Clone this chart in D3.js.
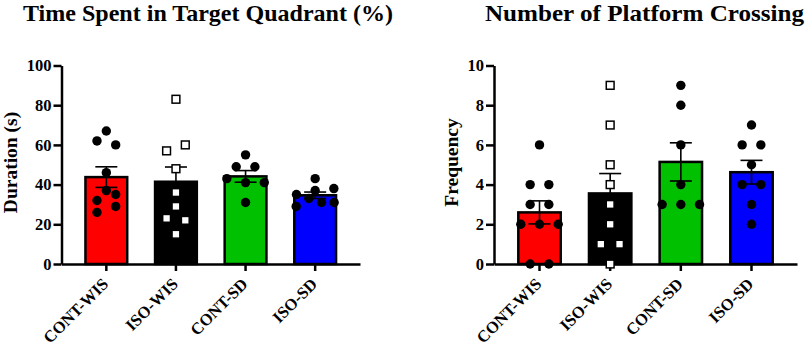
<!DOCTYPE html>
<html>
<head>
<meta charset="utf-8">
<script src="https://cdn.jsdelivr.net/npm/d3@7"></script>
<style>
body { margin: 0; background: #fff; }
text { font-family: "Liberation Serif", "Times New Roman", serif; font-weight: bold; fill: #000; }
</style>
</head>
<body>
<script>
// groups and colours
var groups = ["CONT-WIS", "ISO-WIS", "CONT-SD", "ISO-SD"];
var barColors = ["#ff0000", "#000000", "#00c000", "#0000ff"];
var markers = ["circle", "square", "circle", "circle"];

// time in target quadrant, one value per animal (s)
var timeContWis = [67, 62, 60, 46, 37, 32, 35, 26, 29];
var timeIsoWis = [83, 57, 60, 48, 36, 29, 23, 22, 15];
var timeContSd = [55, 49, 49, 43, 41, 41, 31];
var timeIsoSd = [43, 35, 37, 38, 29, 33, 31, 31];

// platform crossings, one value per animal
var crossContWis = [6, 4, 4, 3, 3, 2, 2, 2, 0, 0];
var crossIsoWis = [9, 7, 5, 4, 3, 2, 1, 1, 0];
var crossContSd = [9, 8, 6, 4, 3, 3, 3];
var crossIsoSd = [7, 6, 6, 5, 4, 4, 3, 2];

var timeTicks = [0, 20, 40, 60, 80, 100];
var crossTicks = [0, 2, 4, 6, 8, 10];

var W = 809, H = 349;
var svg = d3.select("body").append("svg")
    .attr("width", W)
    .attr("height", H);

function mean(a) { return d3.mean(a); }
function sem(a) { return d3.deviation(a) / Math.sqrt(a.length); }

// spread points that sit on the same row, like the prism scatter
function jitter(values, y) {
    var idx = values.map(function(v, i) { return i; })
        .sort(function(a, b) { return values[a] - values[b] || a - b; });
    var rows = [], cur = null, start = 0;
    idx.forEach(function(i) {
        var py = y(values[i]);
        if (cur && start - py < 9) {
            cur.push(i);
        } else {
            cur = [i];
            rows.push(cur);
            start = py;
        }
    });
    var off = [];
    rows.forEach(function(r) {
        r.sort(function(a, b) { return a - b; });
        var n = r.length;
        var sp = n > 1 ? Math.min(18.7, 38 / (n - 1)) : 0;
        r.forEach(function(i, k) { off[i] = (k - (n - 1) / 2) * sp; });
    });
    return off;
}

function drawPanel(cfg) {
    var g = svg.append("g");
    var x = d3.scaleBand()
        .domain(groups)
        .range([cfg.x0, cfg.x1])
        .paddingInner(0.4)
        .paddingOuter(0.344);
    var y = d3.scaleLinear()
        .domain([0, cfg.yMax])
        .range([264, 65.5]);

    var stats = cfg.data.map(function(vals, i) {
        return { group: groups[i], vals: vals, m: mean(vals), s: sem(vals), color: barColors[i], marker: markers[i] };
    });

    // bars
    g.selectAll("rect.bar")
        .data(stats)
        .enter()
        .append("rect")
        .attr("class", "bar")
        .attr("x", function(d) { return x(d.group); })
        .attr("width", x.bandwidth())
        .attr("y", function(d) { return y(d.m); })
        .attr("height", function(d) { return y(0) - y(d.m); })
        .style("fill", function(d) { return d.color; })
        .style("stroke", "#000")
        .style("stroke-width", 2.5);

    // error bars (mean +/- sem)
    var eb = g.selectAll("g.err")
        .data(stats)
        .enter()
        .append("g")
        .attr("class", "err")
        .attr("transform", function(d) { return "translate(" + (x(d.group) + x.bandwidth() / 2) + ",0)"; })
        .style("stroke", "#000")
        .style("stroke-width", 1.6);
    eb.append("line")
        .attr("y1", function(d) { return y(d.m + d.s); })
        .attr("y2", function(d) { return y(d.m - d.s); });
    eb.append("line")
        .attr("x1", -11).attr("x2", 11)
        .attr("y1", function(d) { return y(d.m + d.s); })
        .attr("y2", function(d) { return y(d.m + d.s); });
    eb.append("line")
        .attr("x1", -11).attr("x2", 11)
        .attr("y1", function(d) { return y(d.m - d.s); })
        .attr("y2", function(d) { return y(d.m - d.s); });

    // axes
    var yAxis = g.append("g")
        .attr("transform", "translate(" + cfg.x0 + ",0)")
        .call(d3.axisLeft(y).tickValues(cfg.ticks).tickSize(8).tickSizeOuter(0).tickPadding(2));
    yAxis.selectAll("path, line").style("stroke", "#000").style("stroke-width", 2.5);
    yAxis.selectAll("text").style("font-size", "16.5px").style("font-family", null);

    var xAxis = g.append("g")
        .attr("transform", "translate(0," + y(0) + ")")
        .call(d3.axisBottom(x).tickSize(7).tickSizeOuter(0));
    xAxis.selectAll("path, line").style("stroke", "#000").style("stroke-width", 2.5);
    xAxis.selectAll("text").remove();

    g.selectAll("text.xlab")
        .data(groups)
        .enter()
        .append("text")
        .attr("class", "xlab")
        .attr("transform", function(d) { return "translate(" + (x(d) + x.bandwidth() / 2 + 3) + ",285) rotate(-45)"; })
        .attr("text-anchor", "end")
        .style("font-size", "16.5px")
        .text(function(d) { return d; });

    // individual animals
    stats.forEach(function(d) {
        var cx = x(d.group) + x.bandwidth() / 2;
        var off = jitter(d.vals, y);
        if (d.marker === "circle") {
            g.selectAll(null)
                .data(d.vals)
                .enter()
                .append("circle")
                .attr("cx", function(v, i) { return cx + off[i]; })
                .attr("cy", function(v) { return y(v); })
                .attr("r", 4.7)
                .style("fill", "#000");
        } else {
            g.selectAll(null)
                .data(d.vals)
                .enter()
                .append("rect")
                .attr("x", function(v, i) { return cx + off[i] - 3.9; })
                .attr("y", function(v) { return y(v) - 3.9; })
                .attr("width", 7.8)
                .attr("height", 7.8)
                .style("fill", "#fff")
                .style("stroke", "#000")
                .style("stroke-width", 1.5);
        }
    });

    // titles
    g.append("text")
        .attr("x", cfg.titleX)
        .attr("y", 21)
        .attr("textLength", cfg.titleLen)
        .attr("lengthAdjust", "spacingAndGlyphs")
        .style("font-size", "24px")
        .text(cfg.title);

    g.append("text")
        .attr("transform", "translate(" + cfg.labelX + ",162.5) rotate(-90)")
        .attr("text-anchor", "middle")
        .style("font-size", "19.5px")
        .text(cfg.yLabel);
}

drawPanel({
    title: "Time Spent in Target Quadrant (%)",
    titleX: 23, titleLen: 370,
    yLabel: "Duration (s)", labelX: 17,
    yMax: 100, ticks: timeTicks,
    x0: 61.5, x1: 360,
    data: [timeContWis, timeIsoWis, timeContSd, timeIsoSd]
});

drawPanel({
    title: "Number of Platform Crossing",
    titleX: 485, titleLen: 319,
    yLabel: "Frequency", labelX: 458,
    yMax: 10, ticks: crossTicks,
    x0: 494, x1: 797,
    data: [crossContWis, crossIsoWis, crossContSd, crossIsoSd]
});
</script>
</body>
</html>
